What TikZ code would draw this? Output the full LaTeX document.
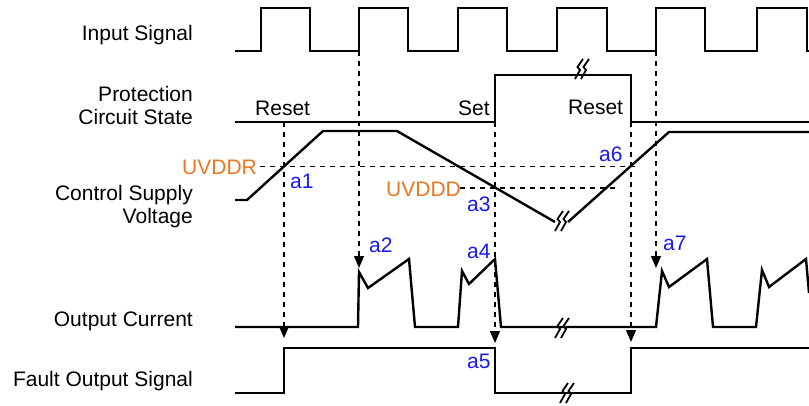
\documentclass[tikz,border=0pt]{standalone}
\usepackage{fontspec}
\setmainfont{Liberation Sans}
\usetikzlibrary{arrows.meta}
\definecolor{uvorange}{RGB}{236,118,30}
\definecolor{tagblue}{RGB}{25,25,240}
\tikzset{
  sig/.style={line width=2.4pt},
  guide/.style={line width=1.2pt, dash pattern=on 5pt off 5pt},
  probe/.style={guide, -{Triangle[length=12pt,width=10pt]}},
  lbl/.style={anchor=base east, align=right},
  uv/.style={anchor=base west, text=uvorange},
  tag/.style={anchor=base west, text=tagblue},
  cut/.pic={
    \draw[line width=1.8pt] (2,-10) -- (-3.5,-2) -- (-1,1) -- (-6,10);
    \draw[line width=1.8pt] (8,-10) -- (2.5,-2) -- (5,1) -- (0,10);
  }
}
\begin{document}
\begin{tikzpicture}[x=1pt, y=-1pt, every node/.style={inner sep=0pt, font=\fontsize{21}{22.5}\selectfont}]
\useasboundingbox (0,0) rectangle (809,405);

\node[lbl] (insig) at (193,40) {Input Signal};
\node[lbl] (prot) at (193,124) {Protection\\Circuit State};
\node[lbl] (vcc) at (193,223) {Control Supply\\Voltage};
\node[lbl] (iout) at (193,326) {Output Current};
\node[lbl] (fault) at (193,386) {Fault Output Signal};

\draw[sig] (235,51) -- (261,51) -- (261,8) -- (310,8) -- (310,51) -- (359,51) -- (359,8) -- (408,8) -- (408,51)
  -- (458,51) -- (458,8) -- (507,8) -- (507,51) -- (557,51) -- (557,8) -- (607,8) -- (607,51)
  -- (656,51) -- (656,8) -- (705,8) -- (705,51) -- (757,51) -- (757,8) -- (807,8) -- (807,51) -- (809,51);
\draw[sig] (235,122) -- (495,122) -- (495,75) -- (631,75) -- (631,122) -- (809,122);
\draw[sig] (235,200) -- (247,200) -- (323,131) -- (397,131) -- (555,222);
\draw[sig] (568,222) -- (669,132) -- (809,132);
\draw[sig] (235,327) -- (358,327) -- (359,272) -- (368,288) -- (409,259) -- (415,327) -- (458,327) -- (462,271)
  -- (469,284) -- (495,259) -- (501,327) -- (656,327) -- (662,271) -- (669,287) -- (707,259) -- (713,327)
  -- (756,327) -- (762,270) -- (769,287) -- (806,259) -- (809,293);
\draw[sig] (235,393) -- (284,393) -- (284,348) -- (495,348) -- (495,393) -- (631,393) -- (631,348) -- (809,348);

\pic at (581,69) {cut};
\pic at (561,221) {cut};
\pic at (561,328) {cut};
\pic at (566,393) {cut};

\node[anchor=base west] (rst1) at (255,115) {Reset};
\node[anchor=base west] (set) at (458,115) {Set};
\node[anchor=base west] (rst2) at (568,114) {Reset};

\draw[guide] (260,166.7) -- (637,166.7);
\draw[guide] (460,188) -- (618,188);
\node[uv] (uvddr) at (182,174) {UVDDR};
\node[uv] (uvddd) at (386,196) {UVDDD};

\coordinate (s1) at (284,122);
\coordinate (e1) at (284,338);
\coordinate (s2) at (359,51);
\coordinate (e2) at (359,268);
\coordinate (s3) at (495,122);
\coordinate (e3) at (495,343);
\coordinate (s4) at (631,122);
\coordinate (e4) at (631,342);
\coordinate (s5) at (656,51);
\coordinate (e5) at (656,268);
\draw[probe] (s1) -- (e1);
\draw[probe] (s2) -- (e2);
\draw[probe] (s3) -- (e3);
\draw[probe] (s4) -- (e4);
\draw[probe] (s5) -- (e5);

\node[tag] (a1) at (290,188) {a1};
\node[tag] (a2) at (369,252) {a2};
\node[tag] (a3) at (467,211) {a3};
\node[tag] (a4) at (467,258) {a4};
\node[tag] (a5) at (467,368) {a5};
\node[tag] (a6) at (599,161) {a6};
\node[tag] (a7) at (663,250) {a7};
\end{tikzpicture}
\end{document}
